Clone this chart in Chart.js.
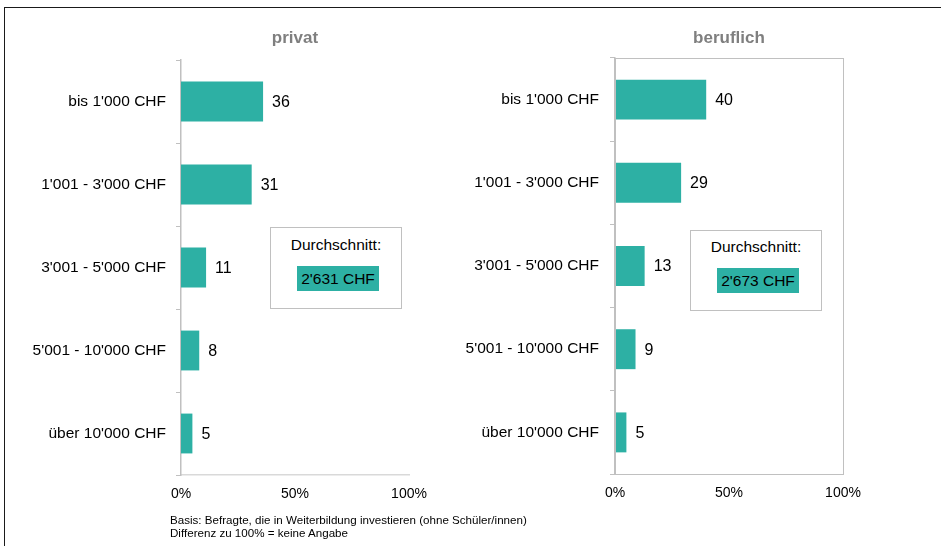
<!DOCTYPE html>
<html><head><meta charset="utf-8">
<script src="https://cdn.jsdelivr.net/npm/chart.js@4/dist/chart.umd.min.js"></script>
<style>
html,body{margin:0;padding:0;background:#fff;}
body{width:941px;height:546px;overflow:hidden;position:relative;font-family:"Liberation Sans",Arial,sans-serif;}
#frame{position:absolute;left:4px;top:7px;width:940px;height:540px;border-left:1.5px solid #1a1a1a;border-top:1.5px solid #1a1a1a;}
.w{position:absolute;top:0;height:546px;}
#w1{left:0;width:470px;}
#w2{left:430px;width:511px;}
.box{position:absolute;border:1px solid #c0c0c0;background:#fff;color:#000;font-size:15.5px;}
.box .t{position:absolute;left:0;right:0;text-align:center;}
.box .h{position:absolute;background:#2db0a4;text-align:center;line-height:25px;}
.note{position:absolute;left:170px;font-size:11.6px;line-height:13px;color:#000;white-space:nowrap;}
</style>
</head><body>
<div id="frame"></div>
<div class="w" id="w1"><canvas id="c1"></canvas></div>
<div class="w" id="w2"><canvas id="c2"></canvas></div>

<div class="box" style="left:270px;top:227px;width:130px;height:80px;">
  <div class="t" style="top:8px;">Durchschnitt:</div>
  <div class="h" style="left:26px;top:38px;width:82px;height:25px;" id="avg1"></div>
</div>
<div class="box" style="left:690px;top:230px;width:130px;height:79px;">
  <div class="t" style="top:7px;">Durchschnitt:</div>
  <div class="h" style="left:26px;top:37px;width:82px;height:25px;" id="avg2"></div>
</div>

<div class="note" style="top:513px;">Basis: Befragte, die in Weiterbildung investieren (ohne Schüler/innen)</div>
<div class="note" style="top:526px;">Differenz zu 100% = keine Angabe</div>

<script>
const categories = ["bis 1'000 CHF", "1'001 - 3'000 CHF", "3'001 - 5'000 CHF", "5'001 - 10'000 CHF", "über 10'000 CHF"];
const privatValues = [36, 31, 11, 8, 5];
const beruflichValues = [40, 29, 13, 9, 5];
const panelTitles = ["privat", "beruflich"];
const averages = ["2'631 CHF", "2'673 CHF"];
const xTicks = [0, 50, 100];

document.getElementById('avg1').textContent = averages[0];
document.getElementById('avg2').textContent = averages[1];

const TEAL = '#2db0a4';
const FONT = '"Liberation Sans", Arial, sans-serif';

const valueLabels = {
  id: 'valueLabels',
  afterDatasetsDraw(chart) {
    const ctx = chart.ctx;
    const meta = chart.getDatasetMeta(0);
    ctx.save();
    ctx.font = '16px ' + FONT;
    ctx.fillStyle = '#000';
    ctx.textAlign = 'left';
    ctx.textBaseline = 'middle';
    meta.data.forEach((bar, i) => {
      ctx.fillText(String(chart.data.datasets[0].data[i]), bar.x + 9, bar.y + 1);
    });
    ctx.restore();
  }
};

const panelTitle = {
  id: 'panelTitle',
  afterDraw(chart, args, opts) {
    const ctx = chart.ctx;
    const a = chart.chartArea;
    ctx.save();
    ctx.font = 'bold 17px ' + FONT;
    ctx.fillStyle = '#7f7f7f';
    ctx.textAlign = 'center';
    ctx.textBaseline = 'middle';
    ctx.fillText(opts.text, (a.left + a.right) / 2 + (opts.dx || 0), opts.y);
    if (opts.boxed) {
      ctx.strokeStyle = '#c0c0c0';
      ctx.lineWidth = 1;
      ctx.strokeRect(a.left + 0.5, a.top + 0.5, a.right - a.left, a.bottom - a.top);
    }
    ctx.restore();
  }
};

function makeChart(id, values, title, area, W, boxed, labelPad) {
  const H = 546;
  const xH = 30;
  return new Chart(document.getElementById(id), {
    type: 'bar',
    data: {
      labels: categories,
      datasets: [{
        data: values,
        backgroundColor: TEAL,
        borderWidth: 0,
        categoryPercentage: 1,
        barPercentage: 0.48
      }]
    },
    options: {
      indexAxis: 'y',
      responsive: true,
      maintainAspectRatio: false,
      animation: false,
      layout: { padding: { top: area.top, left: 0, right: W - area.right, bottom: H - area.bottom - xH } },
      plugins: {
        legend: { display: false },
        tooltip: { enabled: false },
        title: { display: false },
        panelTitle: { text: title, y: 38, boxed: boxed }
      },
      scales: {
        x: {
          min: 0, max: 100,
          afterBuildTicks(scale) { scale.ticks = xTicks.map(v => ({ value: v })); },
          afterFit(scale) { scale.height = xH; },
          grid: { display: false, drawTicks: false },
          border: { display: !boxed, color: '#d9d9d9', width: 1.5 },
          ticks: {
            padding: 11,
            color: '#000',
            font: { family: FONT, size: 14 },
            callback: v => v + '%'
          }
        },
        y: {
          afterFit(scale) { scale.width = area.left; },
          grid: { display: true, drawOnChartArea: false, drawTicks: true, tickLength: 5, offset: true, color: '#c0c0c0' },
          border: { display: true, color: '#c0c0c0', width: 1.5 },
          ticks: {
            padding: labelPad,
            color: '#000',
            font: { family: FONT, size: 15.5 }
          }
        }
      }
    },
    plugins: [valueLabels, panelTitle]
  });
}

makeChart('c1', privatValues, panelTitles[0], { left: 181, right: 409, top: 60, bottom: 475 }, 470, false, 10);
makeChart('c2', beruflichValues, panelTitles[1], { left: 185, right: 413, top: 58, bottom: 474 }, 511, true, 11);
</script>
</body></html>
